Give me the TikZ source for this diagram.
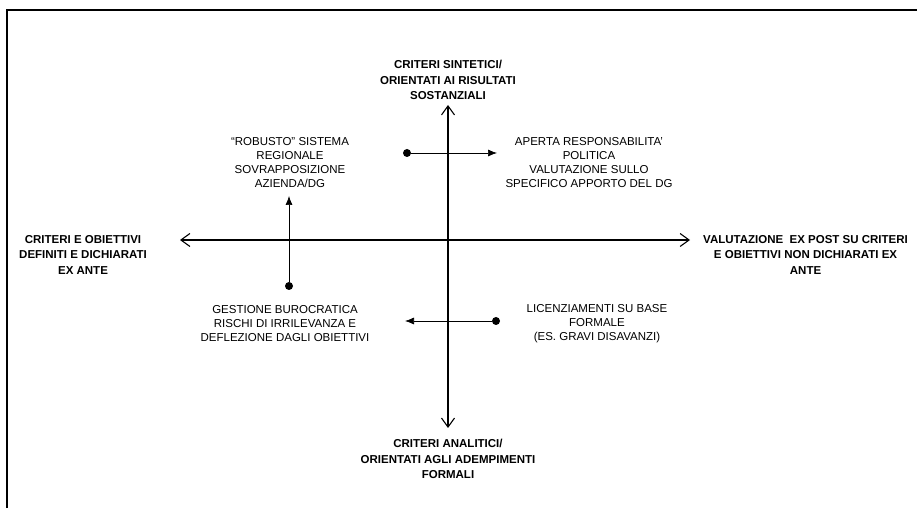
\documentclass[tikz,border=0pt]{standalone}
\usepackage{fontspec}
\setmainfont{Liberation Sans}
\usepackage{tikz}
\usetikzlibrary{arrows.meta,positioning}

\tikzset{
  axislbl/.style={font=\bfseries\fontsize{11.5}{15.5}\selectfont,align=center,inner sep=1pt},
  quadlbl/.style={font=\fontsize{11.5}{14}\selectfont,align=center,inner sep=1pt},
  dotmark/.style={circle,fill,inner sep=0pt,minimum size=8pt},
  axisline/.style={line width=1.1pt,{Straight Barb[length=9pt,width=13pt]}-{Straight Barb[length=9pt,width=13pt]}},
  moveline/.style={line width=0.7pt,-{Latex[length=9pt,width=7pt]}}
}

\begin{document}
\begin{tikzpicture}[x=1pt,y=1pt]
  \useasboundingbox (0,0) rectangle (917,508);
  \draw[line width=1.4pt] (7,0) -- (7,498) -- (917,498);

  % the two axes
  \coordinate (west) at (180,268);
  \coordinate (east) at (690,268);
  \coordinate (north) at (448,403);
  \coordinate (south) at (448,80);
  \draw[axisline] (west) -- (east);
  \draw[axisline] (south) -- (north);

  \node[axislbl,above=4pt of north] (sint) {CRITERI SINTETICI/\\ORIENTATI AI RISULTATI\\SOSTANZIALI};
  \node[axislbl,below=10pt of south] (anal) {CRITERI ANALITICI/\\ORIENTATI AGLI ADEMPIMENTI\\FORMALI};
  \node[axislbl,below left=-6pt and 32pt of west] (exante) {CRITERI E OBIETTIVI\\DEFINITI E DICHIARATI\\EX ANTE};
  \node[axislbl,below right=-6pt and 12pt of east] (expost) {VALUTAZIONE \ EX POST SU CRITERI\\E OBIETTIVI NON DICHIARATI EX\\ANTE};

  % quadrants
  \node[quadlbl] (robusto) at (290,345) {``ROBUSTO'' SISTEMA\\REGIONALE\\SOVRAPPOSIZIONE\\AZIENDA/DG};
  \node[quadlbl] (aperta) at (589,345) {APERTA RESPONSABILITA'\\POLITICA\\VALUTAZIONE SULLO\\SPECIFICO APPORTO DEL DG};
  \node[quadlbl] (gestione) at (285,184) {GESTIONE BUROCRATICA\\RISCHI DI IRRILEVANZA E\\DEFLEZIONE DAGLI OBIETTIVI};
  \node[quadlbl] (licenz) at (597,184) {LICENZIAMENTI SU BASE\\FORMALE\\(ES. GRAVI DISAVANZI)};

  \node[dotmark] (tldot) at (289,222) {};
  \coordinate (tltip) at (289,312);
  \draw[moveline] (tldot) -- (tltip);

  \node[dotmark] (trdot) at (407,355) {};
  \coordinate (trtip) at (497,355);
  \draw[moveline] (trdot) -- (trtip);

  \node[dotmark] (brdot) at (496,187) {};
  \coordinate (brtip) at (405,187);
  \draw[moveline] (brdot) -- (brtip);
\end{tikzpicture}
\end{document}
